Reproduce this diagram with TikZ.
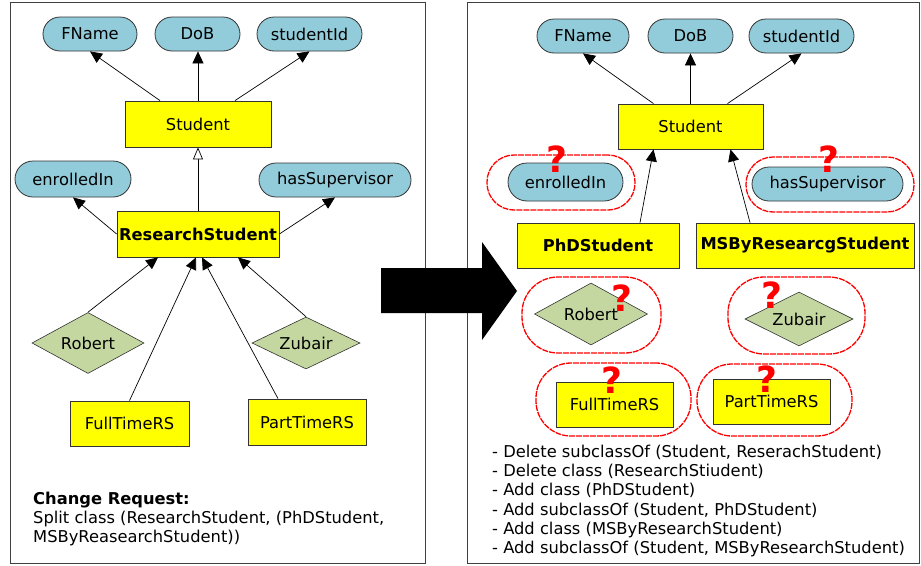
\documentclass[tikz,border=0pt]{standalone}
\usepackage{fontspec}
\setmainfont{DejaVu Sans}
\usetikzlibrary{shapes.geometric,arrows.meta,calc}
\definecolor{attrblue}{RGB}{146,204,218}
\definecolor{indgreen}{RGB}{196,215,160}
\definecolor{clsyellow}{RGB}{255,255,0}
\begin{document}
\begin{tikzpicture}[x=1pt,y=-1pt,
  every node/.style={font=\fontsize{16.3}{19.2}\selectfont, text=black},
  attr/.style={draw=black!80, fill=attrblue, rounded corners=17pt, minimum height=34pt, inner sep=0pt, line width=0.8pt},
  cls/.style={draw=black!80, fill=clsyellow, minimum height=46pt, inner sep=0pt, line width=0.8pt},
  ind/.style={diamond, draw=black!80, fill=indgreen, inner sep=0pt, aspect=1.8, line width=0.6pt},
  conn/.style={line width=0.7pt, -{Triangle[length=12pt,width=11pt]}},
  isa/.style={line width=0.7pt, -{Triangle[open,length=12pt,width=10pt,fill=white]}},
  redoval/.style={draw=red, line width=1.3pt, dash pattern=on 6pt off 1pt, inner sep=0pt},
  qm/.style={text=red, font=\fontsize{36}{36}\selectfont\bfseries, inner sep=0pt},
  panel/.style={draw=black!75, line width=1pt},
  txt/.style={anchor=north west, align=left, inner sep=0pt}]
\useasboundingbox (0,0) rectangle (921,565);
% panels
\draw[panel] (10,2) rectangle (425,563);
\draw[panel] (467,2) rectangle (919,563);
% ---------- left panel ----------
\node[attr, minimum width=94pt] (fn) at (90,34) {FName};
\node[attr, minimum width=85pt] (dob) at (197.5,34) {DoB};
\node[attr, minimum width=105pt] (sid) at (309.5,34) {studentId};
\node[cls, minimum width=146pt] (st) at (198,124) {Student};
\node[attr, minimum width=116pt, minimum height=36pt, rounded corners=18pt] (en) at (73,179) {enrolledIn};
\node[attr, minimum width=152pt] (hs) at (335,180) {hasSupervisor};
\node[cls, minimum width=162pt] (rs) at (198,234) {\bfseries ResearchStudent};
\node[ind, minimum width=112pt, minimum height=61pt] (rob) at (88,343) {Robert};
\node[ind, minimum width=108pt, minimum height=52pt] (zb) at (306,343) {Zubair};
\node[cls, minimum width=119pt, minimum height=45pt] (ft) at (129.5,423.5) {FullTimeRS};
\node[cls, minimum width=118pt, minimum height=46pt] (pt) at (307,422) {PartTimeRS};
\draw[conn] ($(st.north)+(-38,0)$) -- (fn.south);
\draw[conn] (st.north) -- (st.north |- dob.south);
\draw[conn] ($(st.north)+(37,0)$) -- (sid.south);
\draw[isa] (rs.north) -- (st.south);
\draw[conn] (rs.west) -- (en.south);
\draw[conn] (rs.east) -- (hs.south);
\draw[conn] (rob.north) -- ($(rs.south)+(-40,0)$);
\draw[conn] (ft.north) -- ($(rs.south)+(-2,0)$);
\draw[conn] ($(pt.north)+(-29,0)$) -- ($(rs.south)+(4,0)$);
\draw[conn] (zb.north) -- ($(rs.south)+(40,0)$);
\node[txt] (cr) at (33,492) {\textbf{Change Request:}\\Split class (ResearchStudent, (PhDStudent,\\MSByReasearchStudent))};
% ---------- right panel ----------
\node[attr, minimum width=92pt] (fn2) at (583,36) {FName};
\node[attr, minimum width=85pt] (dob2) at (690.5,36) {DoB};
\node[attr, minimum width=105pt] (sid2) at (801.5,36) {studentId};
\node[cls, minimum width=145pt, minimum height=45pt] (st2) at (690.5,126.5) {Student};
\node[attr, minimum width=115pt, minimum height=38pt, rounded corners=19pt] (en2) at (565.5,182) {enrolledIn};
\node[attr, minimum width=151pt] (hs2) at (827.5,184) {hasSupervisor};
\node[cls, minimum width=162pt, minimum height=45pt] (phd) at (598,245.5) {\bfseries PhDStudent};
\node[cls, minimum width=218pt, minimum height=45pt] (ms) at (805,245.5) {\bfseries MSByResearcgStudent};
\node[ind, minimum width=113pt, minimum height=62pt] (rob2) at (591,314) {Robert};
\node[ind, minimum width=108pt, minimum height=54pt] (zb2) at (799,319) {Zubair};
\node[cls, minimum width=117pt, minimum height=45pt] (ft2) at (614.5,404.5) {FullTimeRS};
\node[cls, minimum width=117pt, minimum height=45pt] (pt2) at (771.5,401.5) {PartTimeRS};
\draw[conn] ($(st2.north)+(-37,0)$) -- (fn2.south);
\draw[conn] (st2.north) -- (dob2.south);
\draw[conn] ($(st2.north)+(37,0)$) -- (sid2.south);
\draw[conn] ($(phd.north)+(42,0)$) -- ($(st2.south)+(-37,0)$);
\draw[conn] ($(ms.north)+(-55,0)$) -- ($(st2.south)+(40,0)$);
% red ovals
\node[redoval, minimum width=148pt, minimum height=55pt, rounded corners=27pt] (ov1) at (561,182.5) {};
\node[redoval, minimum width=168pt, minimum height=55pt, rounded corners=27pt] (ov2) at (830,184.5) {};
\node[redoval, minimum width=139pt, minimum height=76pt, rounded corners=36pt] (ov3) at (591.5,315) {};
\node[redoval, minimum width=137pt, minimum height=77pt, rounded corners=36pt] (ov4) at (796.5,315.5) {};
\node[redoval, minimum width=155pt, minimum height=73pt, rounded corners=35pt] (ov5) at (613.5,399.5) {};
\node[redoval, minimum width=155pt, minimum height=72pt, rounded corners=35pt] (ov6) at (774.5,400) {};
% question marks
\node[qm] (q1) at (557,159) {?};
\node[qm] (q2) at (829,159) {?};
\node[qm] (q3) at (622,298) {?};
\node[qm] (q4) at (772,295) {?};
\node[qm] (q5) at (612,380) {?};
\node[qm] (q6) at (767,379) {?};
\node[txt] (ops) at (492,445) {- Delete subclassOf (Student, ReserachStudent)\\- Delete class (ResearchStiudent)\\- Add class (PhDStudent)\\- Add subclassOf (Student, PhDStudent)\\- Add class (MSByResearchStudent)\\- Add subclassOf (Student, MSByResearchStudent)};
% big arrow
\fill[black] (381,268) -- (482,268) -- (482,242) -- (517,291) -- (482,340) -- (482,313) -- (381,313) -- cycle;
\end{tikzpicture}
\end{document}
